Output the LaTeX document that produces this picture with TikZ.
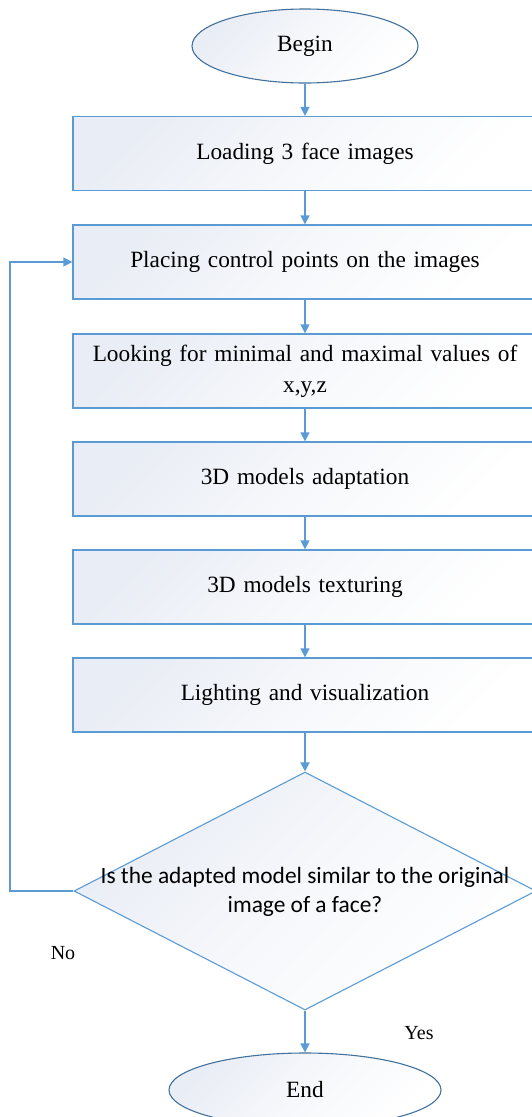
\documentclass[tikz,border=0pt]{standalone}
\usepackage{fontspec}
\setmainfont{Liberation Serif}
\newfontfamily\calib{Carlito}
\usetikzlibrary{shapes.geometric,arrows.meta}
\definecolor{edgeblue}{RGB}{91,155,213}
\definecolor{ellblue}{RGB}{65,113,156}
\definecolor{fillA}{RGB}{233,237,245}
\begin{document}
\begin{tikzpicture}[x=1pt,y=-1pt,
  shadefill/.style={top color=fillA, bottom color=white, middle color=fillA!40!white, shading angle=45},
  ell/.style={ellipse, draw=ellblue, line width=1.1pt, shadefill, minimum height=74pt, inner sep=0pt,
     font=\fontsize{23.3}{28}\selectfont},
  stepbox/.style={rectangle, draw=edgeblue, line width=1.3pt, shadefill, minimum width=464pt,
     minimum height=74pt, inner sep=0pt, align=center, text width=440pt,
     font=\fontsize{23.3}{31}\selectfont},
  decbox/.style={diamond, draw=edgeblue, line width=1.1pt, shadefill, minimum width=462pt,
     minimum height=238pt, inner sep=0pt},
  arr/.style={draw=edgeblue, line width=1.3pt, -{Triangle[length=9pt,width=9pt]}},
  lab/.style={font=\fontsize{20}{24}\selectfont, inner sep=0pt}
]
\useasboundingbox (0,0) rectangle (532,1117);
\node[ell, minimum width=226pt] (begin) at (305,46) {Begin};
\node[stepbox] (b1) at (305,153.5) {Loading 3 face images};
\node[stepbox] (b2) at (305,262) {Placing control points on the images};
\node[stepbox] (b3) at (305,371) {Looking for minimal and maximal values of\\x,y,z};
\node[stepbox] (b4) at (305,479) {3D models adaptation};
\node[stepbox] (b5) at (305,587) {3D models texturing};
\node[stepbox] (b6) at (305,695) {Lighting and visualization};
\node[decbox] (dec) at (305,891) {};
\node[align=center, inner sep=0pt, font=\calib\fontsize{23.4}{29}\selectfont] (dectext) at (305,892)
  {Is the adapted model similar to the original\\image of a face?};
\node[ell, minimum width=272pt] (end) at (305,1090) {End};
\coordinate (loopx) at (10,891);
\draw[arr] (begin) -- (b1);
\draw[arr] (b1) -- (b2);
\draw[arr] (b2) -- (b3);
\draw[arr] (b3) -- (b4);
\draw[arr] (b4) -- (b5);
\draw[arr] (b5) -- (b6);
\draw[arr] (b6) -- (dec);
\draw[arr] (dec) -- (end);
\draw[arr] (dec.west) -- (loopx) |- (b2.west);
\node[lab] (no) at (63,953) {No};
\node[lab] (yes) at (419,1033) {Yes};
\end{tikzpicture}
\end{document}
